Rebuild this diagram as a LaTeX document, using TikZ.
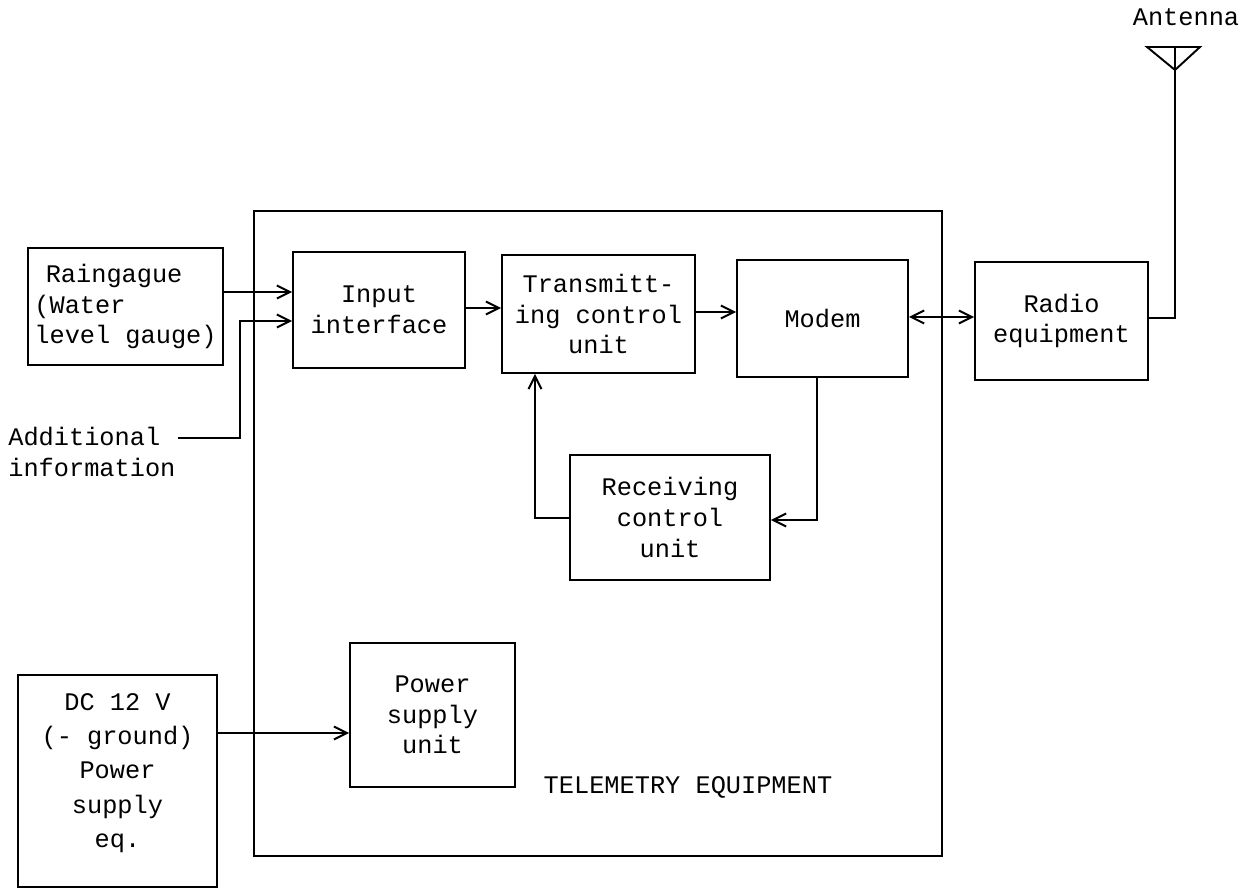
\documentclass[tikz,border=0pt]{standalone}
\usepackage{fontspec}
\setmainfont{Liberation Mono}
\usetikzlibrary{arrows.meta}
\tikzset{
  every node/.style={font=\fontsize{14.4pt}{17.5pt}\selectfont, inner sep=0pt},
  blk/.style={draw, line width=1.1pt, align=center},
  wire/.style={line width=1.1pt},
  arr/.style={wire, -{Straight Barb[length=2.6mm,width=2.6mm]}},
  darr/.style={wire, {Straight Barb[length=2.6mm,width=2.6mm]}-{Straight Barb[length=2.6mm,width=2.6mm]}}
}
\begin{document}
\begin{tikzpicture}
\useasboundingbox (0,0) rectangle (24.98,17.76);
% outer telemetry box
\node[blk, minimum width=13.76cm, minimum height=12.9cm, anchor=north west] (tel) at (5.06,13.56) {};
\node (tellabel) at (13.76,2.02) {TELEMETRY EQUIPMENT};
% blocks
\node[blk, minimum width=3.9cm, minimum height=2.34cm, align=left] (rain) at (2.51,11.63) {\hspace*{0.45em}Raingague\\(Water\\level gauge)};
\node[blk, minimum width=3.44cm, minimum height=2.32cm] (inp) at (7.58,11.56) {Input\\interface};
\node[blk, minimum width=3.86cm, minimum height=2.36cm] (trans) at (11.97,11.48) {Transmitt-\\ing control\\unit};
\node[blk, minimum width=3.42cm, minimum height=2.34cm] (modem) at (16.45,11.39) {Modem};
\node[blk, minimum width=3.46cm, minimum height=2.36cm] (radio) at (21.23,11.34) {Radio\\equipment};
\node[blk, minimum width=4.0cm, minimum height=2.5cm] (recv) at (13.4,7.41) {Receiving\\control\\unit};
\node[blk, minimum width=3.3cm, minimum height=2.88cm] (psu) at (8.65,3.46) {Power\\supply\\unit};
\node[blk, minimum width=3.98cm, minimum height=4.24cm] (dc) at (2.35,2.14) {};
\node[align=center, font=\fontsize{14.4pt}{19.5pt}\selectfont] (dctext) at (2.35,2.30) {DC 12 V\\(- ground)\\Power\\supply\\eq.};
% additional information
\node[align=left, anchor=west] (addl) at (0.16,8.72) {Additional\\information};
\coordinate (addlend) at (3.56,9.00);
% antenna
\coordinate (antapex) at (23.5,16.36);
\coordinate (antl) at (22.94,16.82);
\coordinate (antr) at (24.0,16.82);
\coordinate (antt) at (23.5,16.82);
\node (antlabel) at (23.72,17.42) {Antenna};
% connectors
\draw[arr] (rain.east |- 0,11.92) -- (inp.west |- 0,11.92);
\draw[arr] (addlend) -| (4.80,11.34) -- (inp.west |- 0,11.34);
\draw[arr] (inp.east |- 0,11.60) -- (trans.west |- 0,11.60);
\draw[arr] (trans.east |- 0,11.52) -- (modem.west |- 0,11.52);
\draw[darr] (modem.east |- 0,11.42) -- (radio.west |- 0,11.42);
\draw[wire] (radio.east |- 0,11.40) -| (antapex);
\draw[wire] (antl) -- (antr) -- (antapex) -- cycle;
\draw[wire] (antapex) -- (antt);
\draw[arr] (modem.south -| 16.34,0) |- (recv.east |- 0,7.36);
\draw[arr] (recv.west |- 0,7.40) -| (trans.south -| 10.7,0);
\draw[arr] (dc.east |- 0,3.10) -- (psu.west |- 0,3.10);
\end{tikzpicture}
\end{document}
